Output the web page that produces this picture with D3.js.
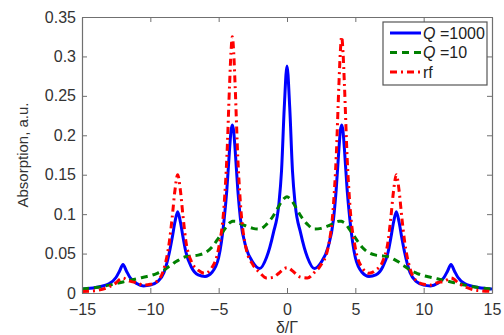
<!DOCTYPE html>
<html>
<head>
<meta charset="utf-8">
<script src="https://cdn.jsdelivr.net/npm/d3@7"></script>
<style>
  body { margin: 0; background: #fff; }
  svg { display: block; font-family: "Liberation Sans", Arial, sans-serif; }
</style>
</head>
<body>
<svg id="chart"></svg>
<script>
// detuning grid (shared by all three curves)
const detuning = [
  -15, -14, -13, -12.5, -12.25, -12, -11.75, -11.5, -11, -10.5, -10, -9.5, -9,
  -8.6, -8.4, -8.2, -8, -7.8, -7.6, -7.4, -7, -6.5, -6, -5.5, -5,
  -4.6, -4.4, -4.2, -4.1, -4, -3.9, -3.8, -3.6, -3.4, -3, -2.5, -2, -1.5, -1,
  -0.6, -0.4, -0.2, 0,
  0.2, 0.4, 0.6, 1, 1.5, 2, 2.5, 3, 3.4, 3.6, 3.8, 3.9, 4, 4.1, 4.2, 4.4, 4.6,
  5, 5.5, 6, 6.5, 7, 7.4, 7.6, 7.8, 8, 8.2, 8.4, 8.6,
  9, 9.5, 10, 10.5, 11, 11.5, 11.75, 12, 12.25, 12.5, 13, 14, 15
];

const q1000 = [
  0.005, 0.007, 0.012, 0.020, 0.028, 0.036, 0.028, 0.020, 0.012, 0.009, 0.010, 0.014, 0.026,
  0.052, 0.070, 0.090, 0.103, 0.090, 0.070, 0.052, 0.033, 0.023, 0.021, 0.026, 0.045,
  0.093, 0.131, 0.183, 0.205, 0.213, 0.205, 0.183, 0.131, 0.093, 0.058, 0.039, 0.031, 0.045, 0.076,
  0.112, 0.155, 0.235, 0.288,
  0.235, 0.155, 0.112, 0.076, 0.045, 0.031, 0.039, 0.058, 0.093, 0.131, 0.183, 0.205, 0.213, 0.205, 0.183, 0.131, 0.093,
  0.045, 0.026, 0.021, 0.023, 0.033, 0.052, 0.070, 0.090, 0.103, 0.090, 0.070, 0.052,
  0.026, 0.014, 0.010, 0.009, 0.012, 0.020, 0.028, 0.036, 0.028, 0.020, 0.012, 0.007, 0.005
];

const q10 = [
  0.005, 0.007, 0.010, 0.012, 0.013, 0.014, 0.015, 0.016, 0.018, 0.020, 0.022, 0.025, 0.029,
  0.034, 0.036, 0.039, 0.041, 0.043, 0.045, 0.046, 0.047, 0.048, 0.051, 0.058, 0.070,
  0.080, 0.085, 0.089, 0.090, 0.091, 0.091, 0.091, 0.090, 0.088, 0.085, 0.082, 0.081, 0.087, 0.098,
  0.110, 0.116, 0.120, 0.122,
  0.120, 0.116, 0.110, 0.098, 0.087, 0.081, 0.082, 0.085, 0.088, 0.090, 0.091, 0.091, 0.091, 0.090, 0.089, 0.085, 0.080,
  0.070, 0.058, 0.051, 0.048, 0.047, 0.046, 0.045, 0.043, 0.041, 0.039, 0.036, 0.034,
  0.029, 0.025, 0.022, 0.020, 0.018, 0.016, 0.015, 0.014, 0.013, 0.012, 0.010, 0.007, 0.005
];

const rf = [
  0.002, 0.003, 0.008, 0.013, 0.017, 0.019, 0.017, 0.015, 0.013, 0.010, 0.011, 0.015, 0.031,
  0.066, 0.096, 0.130, 0.150, 0.130, 0.096, 0.066, 0.040, 0.029, 0.025, 0.032, 0.057,
  0.112, 0.172, 0.265, 0.305, 0.325, 0.305, 0.265, 0.172, 0.112, 0.057, 0.036, 0.026, 0.019, 0.020,
  0.025, 0.028, 0.031, 0.032,
  0.031, 0.028, 0.025, 0.020, 0.019, 0.026, 0.036, 0.057, 0.112, 0.172, 0.265, 0.305, 0.325, 0.305, 0.265, 0.172, 0.112,
  0.057, 0.032, 0.025, 0.029, 0.040, 0.066, 0.096, 0.130, 0.150, 0.130, 0.096, 0.066,
  0.031, 0.015, 0.011, 0.010, 0.013, 0.015, 0.017, 0.019, 0.017, 0.013, 0.008, 0.003, 0.002
];

const xTicks = [-15, -10, -5, 0, 5, 10, 15];
const yTicks = [0, 0.05, 0.1, 0.15, 0.2, 0.25, 0.3, 0.35];

const series = [
  { name: 'Q', suffix: ' =1000', values: q1000, color: '#0000ff', dash: null },
  { name: 'Q', suffix: ' =10', values: q10, color: '#008000', dash: '7,5' },
  { name: null, suffix: 'rf', values: rf, color: '#ff0000', dash: '7,4,2,4' }
];

const width = 504, height = 335;
const margin = { top: 17, right: 12, bottom: 42, left: 82 };

const svg = d3.select('#chart').attr('width', width).attr('height', height);

const x = d3.scaleLinear([-15, 15], [margin.left, width - margin.right]);
const y = d3.scaleLinear([0, 0.35], [height - margin.bottom, margin.top]);

svg.append('defs').append('clipPath').attr('id', 'plot')
  .append('rect')
  .attr('x', margin.left).attr('y', margin.top)
  .attr('width', x(15) - x(-15)).attr('height', y(0) - y(0.35));

const frameColor = '#707070';
const textColor = '#333';

// curves, drawn in matlab order: blue, green, red
const line = d3.line()
  .x((d, i) => x(detuning[i]))
  .y((d) => y(d))
  .curve(d3.curveMonotoneX);

const curves = svg.append('g').attr('clip-path', 'url(#plot)');
series.forEach((s) => {
  curves.append('path')
    .attr('d', line(s.values))
    .attr('fill', 'none')
    .attr('stroke', s.color)
    .attr('stroke-width', 3)
    .attr('stroke-dasharray', s.dash)
    .attr('stroke-linejoin', 'round');
});

// axes with inside ticks on all four sides
const fmt = (d) => (d < 0 ? '\u2212' + Math.abs(d) : String(d));

const styleAxis = (g) => {
  g.select('.domain').attr('stroke', frameColor).attr('stroke-width', 1.2);
  g.selectAll('.tick line').attr('stroke', frameColor);
  g.selectAll('.tick text').attr('fill', textColor).attr('font-size', 16);
};

svg.append('g')
  .attr('transform', `translate(0,${y(0)})`)
  .call(d3.axisBottom(x).tickValues(xTicks).tickFormat(fmt).tickSizeInner(-5).tickSizeOuter(0).tickPadding(11))
  .call(styleAxis);

svg.append('g')
  .attr('transform', `translate(0,${y(0.35)})`)
  .call(d3.axisTop(x).tickValues(xTicks).tickFormat('').tickSizeInner(-5).tickSizeOuter(0))
  .call(styleAxis);

svg.append('g')
  .attr('transform', `translate(${x(-15)},0)`)
  .call(d3.axisLeft(y).tickValues(yTicks).tickFormat((d) => String(+d.toFixed(2))).tickSizeInner(-5).tickSizeOuter(0).tickPadding(6))
  .call(styleAxis);

svg.append('g')
  .attr('transform', `translate(${x(15)},0)`)
  .call(d3.axisRight(y).tickValues(yTicks).tickFormat('').tickSizeInner(-5).tickSizeOuter(0))
  .call(styleAxis);

// axis labels
svg.append('text')
  .attr('x', x(0)).attr('y', 333)
  .attr('text-anchor', 'middle')
  .attr('font-size', 16)
  .attr('fill', textColor)
  .text('\u03b4/\u0393');

svg.append('text')
  .attr('transform', `translate(28,${(y(0) + y(0.35)) / 2}) rotate(-90)`)
  .attr('text-anchor', 'middle')
  .attr('font-size', 15)
  .attr('fill', textColor)
  .text('Absorption, a.u.');

// legend
const lg = svg.append('g').attr('transform', 'translate(383,22)');
lg.append('rect')
  .attr('width', 104).attr('height', 63)
  .attr('fill', '#fff')
  .attr('stroke', '#555').attr('stroke-width', 1.2);

series.forEach((s, i) => {
  const row = lg.append('g').attr('transform', `translate(0,${11 + i * 19.5})`);
  row.append('line')
    .attr('x1', 7).attr('x2', 38)
    .attr('stroke', s.color).attr('stroke-width', 3)
    .attr('stroke-dasharray', s.dash);
  const t = row.append('text')
    .attr('x', 40).attr('dy', '0.35em')
    .attr('font-size', 16).attr('fill', '#222');
  if (s.name) t.append('tspan').attr('font-style', 'italic').text(s.name);
  t.append('tspan').text(s.suffix);
});
</script>
</body>
</html>
